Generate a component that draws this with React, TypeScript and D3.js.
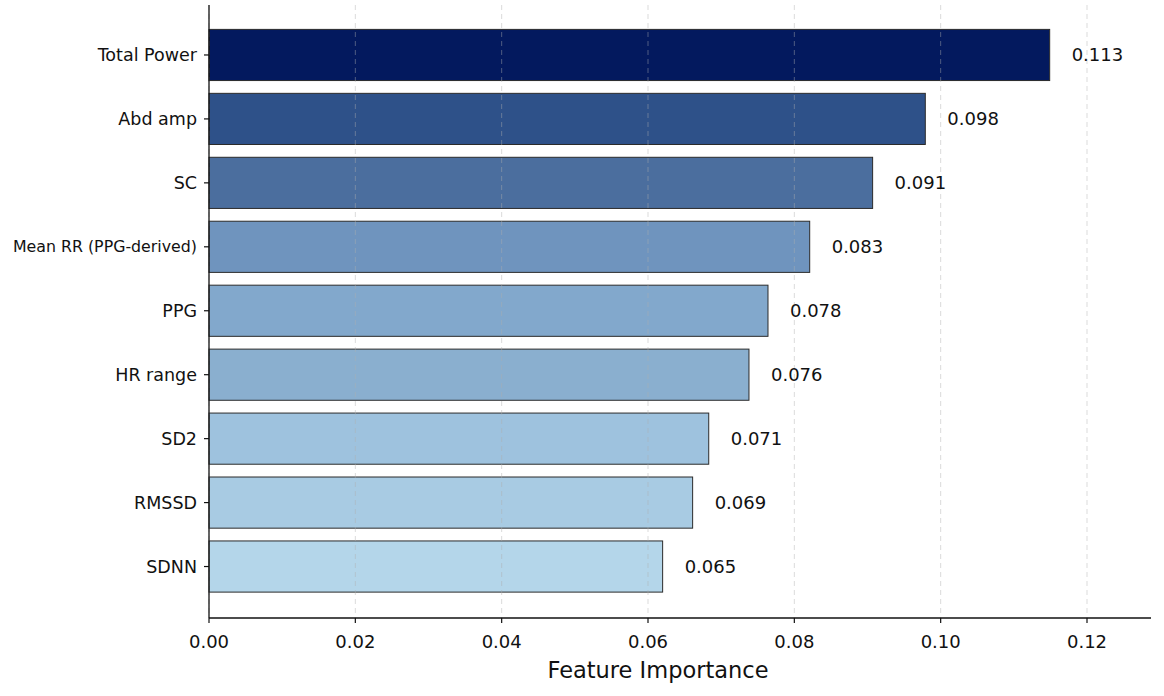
import React from "react";
import * as d3 from "d3";

const features = ["Total Power", "Abd amp", "SC", "Mean RR (PPG-derived)", "PPG", "HR range", "SD2", "RMSSD", "SDNN"];
const importance = [0.1149, 0.0979, 0.0907, 0.0821, 0.0764, 0.0738, 0.0683, 0.0661, 0.0620];
const valueLabels = ["0.113", "0.098", "0.091", "0.083", "0.078", "0.076", "0.071", "0.069", "0.065"];
const barColors = ["#03195e", "#2e5189", "#4b6e9e", "#6f94be", "#82a8cc", "#8aafcf", "#9ec2de", "#a8cbe3", "#b4d6ea"];
const xTicks = [0, 0.02, 0.04, 0.06, 0.08, 0.1, 0.12];

const W = 1164, H = 696;
const left = 209, right = 1151, top = 5, bottom = 618;
const font = "DejaVu Sans, sans-serif";

export default function App() {
  const x = d3.scaleLinear().domain([0, 0.12]).range([left, 1087]);
  const y = d3.scaleBand<string>().domain(features).range([23, 598.5]).paddingInner(0.2).paddingOuter(0.1);
  const bw = y.bandwidth();
  return (
    <svg width={W} height={H} style={{ position: "absolute", left: 0, top: 0, background: "#fff" }} fontFamily={font}>
      {features.map((f, i) => (
        <rect key={f} x={x(0)} y={y(f)!} width={x(importance[i]) - x(0)} height={bw}
          fill={barColors[i]} stroke="#2b2b2b" strokeWidth={1} />
      ))}
      {xTicks.map((t) => (
        <line key={"g" + t} x1={x(t)} x2={x(t)} y1={top} y2={bottom} stroke="#b0b0b0" strokeOpacity={0.45}
          strokeWidth={1} strokeDasharray="5,4" />
      ))}
      {features.map((f, i) => (
        <text key={"v" + f} x={x(importance[i]) + 22} y={y(f)! + bw / 2} dy="0.35em" fontSize={18} fill="#111">
          {valueLabels[i]}
        </text>
      ))}
      <line x1={left} x2={left} y1={top} y2={bottom} stroke="#111" strokeWidth={1.3} />
      <line x1={left} x2={right} y1={bottom} y2={bottom} stroke="#111" strokeWidth={1.3} />
      {xTicks.map((t) => (
        <g key={"t" + t}>
          <line x1={x(t)} x2={x(t)} y1={bottom} y2={bottom + 5} stroke="#111" strokeWidth={1.2} />
          <text x={x(t)} y={648} textAnchor="middle" fontSize={18} fill="#111">{d3.format(".2f")(t)}</text>
        </g>
      ))}
      {features.map((f) => (
        <g key={"y" + f}>
          <line x1={left - 5} x2={left} y1={y(f)! + bw / 2} y2={y(f)! + bw / 2} stroke="#111" strokeWidth={1.2} />
          <text x={left - 12} y={y(f)! + bw / 2} dy="0.35em" textAnchor="end"
            fontSize={f.length > 12 ? 15.8 : 17.5} fill="#111">{f}</text>
        </g>
      ))}
      <text x={658} y={678} textAnchor="middle" fontSize={22.5} fill="#111">Feature Importance</text>
    </svg>
  );
}
